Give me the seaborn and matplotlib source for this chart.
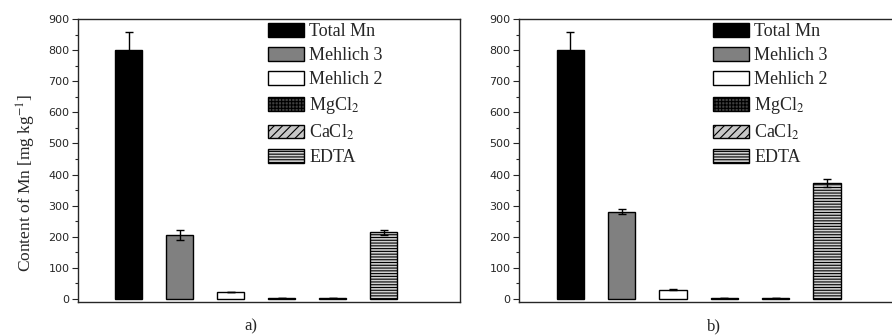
import numpy as np
import pandas as pd
import matplotlib
matplotlib.use('Agg')
import matplotlib.pyplot as plt
from matplotlib.ticker import MultipleLocator
import seaborn as sns

# Data
methods = ['Total Mn', 'Mehlich 3', 'Mehlich 2', 'MgCl$_2$', 'CaCl$_2$', 'EDTA']
values_a = [800, 207, 21, 2, 2, 215]
errors_a = [60, 16, 0, 0, 0, 8]
values_b = [800, 281, 30, 2, 2, 373]
errors_b = [60, 7, 3, 0, 0, 13]
panel_labels = ['a)', 'b)']

# Bar styles
faces = ['black', '#808080', 'white', '#404040', '#c8c8c8', '#d0d0d0']
hatches = ['', '', '', '+++++', '////', '------']

sns.set_style('ticks')
plt.rcParams['hatch.linewidth'] = 0.8
plt.rcParams['font.family'] = ['Liberation Serif', 'DejaVu Serif']
plt.rcParams['mathtext.fontset'] = 'stix'

fig = plt.figure(figsize=(8.92, 3.35), dpi=100)
ax_a = fig.add_axes([78 / 892, 0.0985, 382 / 892, 0.8445])
ax_b = fig.add_axes([519 / 892, 0.0985, 385 / 892, 0.8445])

for ax, vals, errs, lab, lab_x, leg_x in [(ax_a, values_a, errors_a, panel_labels[0], 251, 0.468),
                                          (ax_b, values_b, errors_b, panel_labels[1], 714, 0.475)]:
    df = pd.DataFrame({'method': methods, 'value': vals})
    sns.barplot(data=df, x='method', y='value', hue='method',
                palette=dict(zip(methods, faces)), width=0.53,
                edgecolor='black', linewidth=1.0, legend=False, ax=ax)
    for patch, h in zip(ax.patches, hatches):
        patch.set_hatch(h)
    ax.errorbar(np.arange(len(methods)), vals, yerr=errs, fmt='none',
                ecolor='black', elinewidth=1.0, capsize=3, capthick=1.0)

    ax.set_xlim(-1, 6.5)
    ax.set_ylim(-10, 900)
    ax.yaxis.set_major_locator(MultipleLocator(100))
    ax.yaxis.set_minor_locator(MultipleLocator(50))
    ax.tick_params(axis='y', which='major', length=4, width=0.8, direction='out',
                   labelsize=8, pad=2)
    ax.tick_params(axis='y', which='minor', length=2, width=0.8, direction='out')
    for t in ax.get_yticklabels():
        t.set_fontfamily('DejaVu Sans')
    ax.set_xticks([])
    ax.set_xlabel('')
    ax.set_ylabel('')
    for s in ax.spines.values():
        s.set_visible(True)
        s.set_linewidth(1.0)

    ax.legend(ax.patches, methods, loc='upper left', bbox_to_anchor=(leg_x, 1.025),
              frameon=False, fontsize=13, handlelength=2.0, handleheight=0.8,
              handletextpad=0.3, labelspacing=0.38, borderaxespad=0.2)

    fig.text(lab_x / 892, 1 - 326 / 335, lab, ha='center', va='center', fontsize=12)

ax_a.set_ylabel('Content of Mn [mg kg$^{-1}$]', fontsize=12.5)
ax_a.yaxis.set_label_coords(-0.105, 0.42)

fig.savefig('out.png', dpi=100)
